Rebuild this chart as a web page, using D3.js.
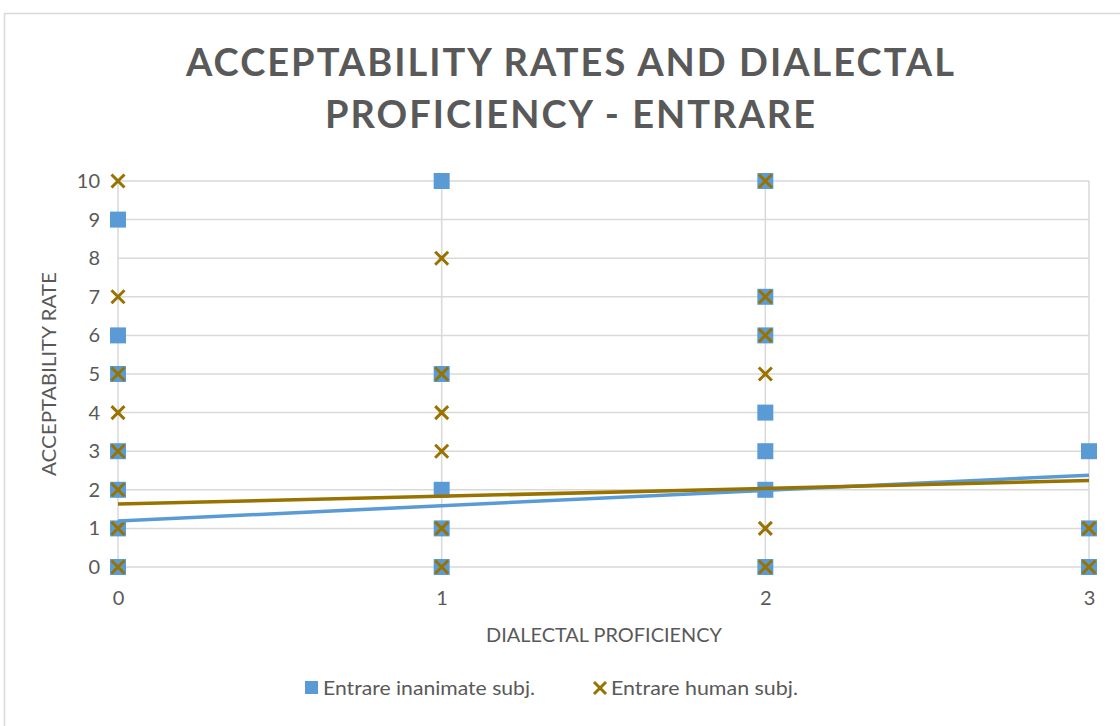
<!DOCTYPE html>
<html>
<head>
<meta charset="utf-8">
<script src="https://cdn.jsdelivr.net/npm/d3@7"></script>
<style>
  html, body { margin: 0; padding: 0; background: #fff; }
  svg { display: block; }
  text { font-family: Lato, "Open Sans", sans-serif; fill: #595959; }
</style>
</head>
<body>
<svg id="chart" width="1120" height="726"></svg>
<script>
// Dialectal proficiency (x) against acceptability rate (y)
const inanimateX = [0, 0, 0, 0, 0, 0, 0, 1, 1, 1, 1, 1, 2, 2, 2, 2, 2, 2, 2, 3, 3, 3];
const inanimateY = [9, 6, 5, 3, 2, 1, 0, 10, 5, 2, 1, 0, 10, 7, 6, 4, 3, 2, 0, 3, 1, 0];
const humanX = [0, 0, 0, 0, 0, 0, 0, 0, 1, 1, 1, 1, 1, 1, 2, 2, 2, 2, 2, 2, 3, 3];
const humanY = [10, 7, 5, 4, 3, 2, 1, 0, 8, 5, 4, 3, 1, 0, 10, 7, 6, 5, 1, 0, 1, 0];
// Linear trendlines: value at x = 0 and at x = 3
const trendX = [0, 3];
const inanimateTrend = [1.19, 2.38];
const humanTrend = [1.63, 2.24];
const xTicks = [0, 1, 2, 3];
const yTicks = [0, 1, 2, 3, 4, 5, 6, 7, 8, 9, 10];
const seriesNames = ["Entrare inanimate subj.", "Entrare human subj."];
const titleLines = ["ACCEPTABILITY RATES AND DIALECTAL", "PROFICIENCY - ENTRARE"];

const blue = "#5B9BD5", gold = "#997300", grid = "#D9D9D9";
const svg = d3.select("#chart");

// Chart area border
svg.append("rect").attr("x", 4.5).attr("y", 13.5).attr("width", 1130).attr("height", 730)
  .attr("fill", "#fff").attr("stroke", grid).attr("stroke-width", 1.5);

const x = d3.scaleLinear().domain([0, 3]).range([118, 1089]);
const y = d3.scaleLinear().domain([0, 10]).range([567, 181]);

// Title
const titleWidths = [770, 492];
svg.append("g").selectAll("text").data(titleLines).join("text")
  .attr("x", 571).attr("y", (d, i) => 76 + i * 52)
  .attr("text-anchor", "middle")
  .attr("textLength", (d, i) => titleWidths[i]).attr("lengthAdjust", "spacingAndGlyphs")
  .style("font-size", "38px").style("font-weight", "bold").style("letter-spacing", "2px")
  .text(d => d);

// Gridlines
svg.append("g").selectAll("line").data(yTicks).join("line")
  .attr("x1", x(0)).attr("x2", x(3)).attr("y1", d => y(d)).attr("y2", d => y(d))
  .attr("stroke", grid).attr("stroke-width", 1.5);
svg.append("g").selectAll("line").data(xTicks).join("line")
  .attr("y1", y(0)).attr("y2", y(10)).attr("x1", d => x(d)).attr("x2", d => x(d))
  .attr("stroke", grid).attr("stroke-width", 1.5);

// Axes (labels only)
const yAxis = svg.append("g").attr("transform", `translate(${x(0)},0)`)
  .call(d3.axisLeft(y).tickValues(yTicks).tickSize(0).tickPadding(18));
const xAxis = svg.append("g").attr("transform", `translate(0,${y(0)})`)
  .call(d3.axisBottom(x).tickValues(xTicks).tickSize(0).tickPadding(24).tickFormat(d3.format("d")));
[yAxis, xAxis].forEach(a => {
  a.select(".domain").remove();
  a.selectAll("text").style("font-size", "20px").attr("fill", "#595959")
    .style("font-family", "Lato, sans-serif");
});

// Axis titles
svg.append("text").attr("x", 604).attr("y", 642).attr("text-anchor", "middle")
  .attr("textLength", 236).attr("lengthAdjust", "spacingAndGlyphs")
  .style("font-size", "20px").text("DIALECTAL PROFICIENCY");
svg.append("text").attr("transform", "translate(56,374) rotate(-90)").attr("text-anchor", "middle")
  .attr("textLength", 204).attr("lengthAdjust", "spacingAndGlyphs")
  .style("font-size", "20px").text("ACCEPTABILITY RATE");

// Markers
const sq = 16;
svg.append("g").selectAll("rect").data(inanimateX).join("rect")
  .attr("x", (d, i) => x(d) - sq / 2).attr("y", (d, i) => y(inanimateY[i]) - sq / 2)
  .attr("width", sq).attr("height", sq).attr("fill", blue);

const xm = 6.5;
const cross = (cx, cy) => `M${cx - xm},${cy - xm}L${cx + xm},${cy + xm}M${cx - xm},${cy + xm}L${cx + xm},${cy - xm}`;
svg.append("g").selectAll("path").data(humanX).join("path")
  .attr("d", (d, i) => cross(x(d), y(humanY[i])))
  .attr("stroke", gold).attr("stroke-width", 3).attr("fill", "none");

// Trendlines
const line = d3.line().x(d => x(d[0])).y(d => y(d[1]));
svg.append("path").attr("d", line(trendX.map((d, i) => [d, inanimateTrend[i]])))
  .attr("stroke", blue).attr("stroke-width", 3.5).attr("fill", "none");
svg.append("path").attr("d", line(trendX.map((d, i) => [d, humanTrend[i]])))
  .attr("stroke", gold).attr("stroke-width", 3.5).attr("fill", "none");

// Legend
const lg = svg.append("g");
lg.append("rect").attr("x", 305).attr("y", 681).attr("width", 13).attr("height", 13).attr("fill", blue);
lg.append("text").attr("x", 323).attr("y", 695).attr("textLength", 212).attr("lengthAdjust", "spacingAndGlyphs")
  .style("font-size", "20px").text(seriesNames[0]);
lg.append("path").attr("d", "M594,682L606,694M594,694L606,682").attr("stroke", gold).attr("stroke-width", 3);
lg.append("text").attr("x", 611).attr("y", 695).attr("textLength", 187).attr("lengthAdjust", "spacingAndGlyphs")
  .style("font-size", "20px").text(seriesNames[1]);
</script>
</body>
</html>
